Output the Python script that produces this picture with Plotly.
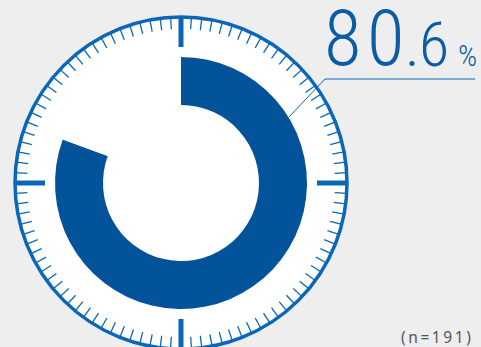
import math
import plotly.graph_objects as go

# ---- data ----
labels = ["該当", "非該当"]
values = [80.6, 19.4]
value_int = "80"
value_dec = ".6"
value_unit = "%"
n_text = "(n=191)"
n_ticks = 100
major_every = 25

W, H = 481, 347
cx, cy = 181, 183
R_face = 166
R_out, R_in = 126, 78

BLUE = "#0a66b8"
DARK = "#02539a"
TXT = "#0b5ba6"
BG = "#eeeeee"
BIGFONT = "Roboto Condensed, Liberation Sans Narrow, DejaVu Sans Condensed, sans-serif"

fig = go.Figure()

# tick marks of the dial
mx, my, Mx, My = [], [], [], []
for i in range(n_ticks):
    a = math.radians(i * 360 / n_ticks)
    sx, sy = math.sin(a), -math.cos(a)
    if i % major_every == 0:
        r0, r1 = R_face - 30, R_face
        Mx += [cx + r0 * sx, cx + r1 * sx, None]
        My += [cy + r0 * sy, cy + r1 * sy, None]
    else:
        r0, r1 = R_face - 12, R_face
        mx += [cx + r0 * sx, cx + r1 * sx, None]
        my += [cy + r0 * sy, cy + r1 * sy, None]

fig.add_trace(go.Scatter(x=mx, y=my, mode="lines", line=dict(color=BLUE, width=1.3),
                         hoverinfo="skip", showlegend=False))
fig.add_trace(go.Scatter(x=Mx, y=My, mode="lines", line=dict(color=BLUE, width=5),
                         hoverinfo="skip", showlegend=False))

fig.add_trace(go.Pie(
    labels=labels, values=values, hole=R_in / R_out, sort=False,
    direction="clockwise", rotation=0, textinfo="none", hoverinfo="label+percent",
    marker=dict(colors=[DARK, "white"], line=dict(width=0)),
    domain=dict(x=[(cx - R_out) / W, (cx + R_out) / W],
                y=[(H - cy - R_out) / H, (H - cy + R_out) / H]),
    showlegend=False,
))

shapes = [
    dict(type="circle", xref="x", yref="y", x0=cx - R_face, x1=cx + R_face,
         y0=cy - R_face, y1=cy + R_face, fillcolor="white",
         line=dict(color=BLUE, width=3.5), layer="below"),
    dict(type="line", xref="x", yref="y", x0=325, y0=79, x1=475, y1=79,
         line=dict(color=BLUE, width=1)),
    dict(type="line", xref="x", yref="y", x0=325, y0=79, x1=289, y1=117,
         line=dict(color=BLUE, width=1)),
]

def ch(c, x, y, size):
    return dict(x=x, y=y, xref="x", yref="y", xanchor="center", yanchor="middle",
                text=c, showarrow=False,
                font=dict(family=BIGFONT, size=size, color=TXT, weight=300))

annotations = [
    ch(value_int[0], 342.5, 39, 77),
    ch(value_int[1], 385.5, 39, 77),
    ch(value_dec[0], 412, 44, 62),
    ch(value_dec[1], 434, 44, 62),
    ch(value_unit, 467, 55.5, 30),
    dict(x=473, y=336.5, xref="x", yref="y", xanchor="right", yanchor="middle",
         text="\u2009".join(n_text), showarrow=False,
         font=dict(family="Noto Sans, DejaVu Sans, sans-serif", size=15.5, color="#555555")),
]

fig.update_layout(
    width=W, height=H, margin=dict(l=0, r=0, t=0, b=0),
    paper_bgcolor=BG, plot_bgcolor=BG,
    xaxis=dict(range=[0, W], visible=False, fixedrange=True),
    yaxis=dict(range=[H, 0], visible=False, fixedrange=True),
    shapes=shapes, annotations=annotations, showlegend=False,
)

fig.write_html("out.html", config={"displayModeBar": False},
               post_script="document.body.style.margin='0';document.body.style.overflow='hidden';")
